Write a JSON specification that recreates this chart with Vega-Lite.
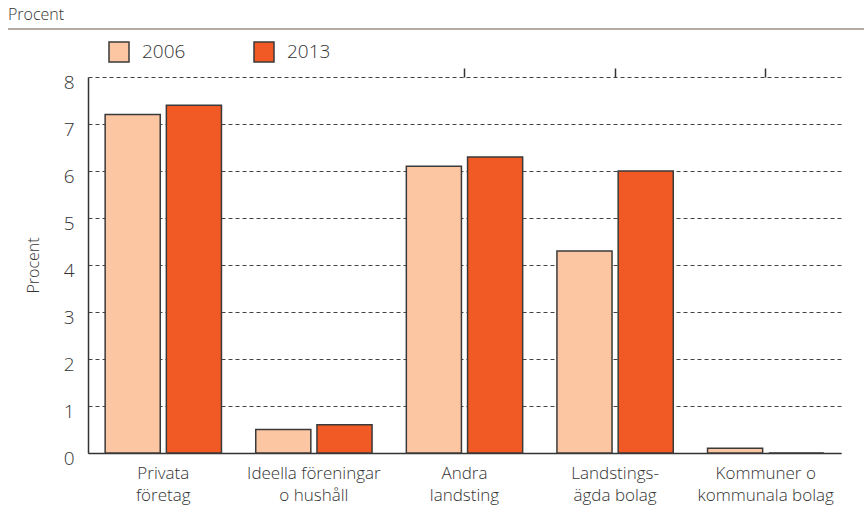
{
  "$schema": "https://vega.github.io/schema/vega-lite/v6.json",
  "autosize": "none",
  "width": 753,
  "height": 376,
  "padding": {"left": 88, "top": 77, "right": 23, "bottom": 64},
  "background": "white",
  "config": {
    "font": "Open Sans",
    "view": {"stroke": null}
  },
  "title": {
    "text": "Procent",
    "anchor": "start",
    "frame": "group",
    "dx": -80,
    "offset": 5,
    "fontSize": 16,
    "fontWeight": 300,
    "color": "#333"
  },
  "data": {
    "values": [
      {"kategori": "Privata|företag", "år": "2006", "procent": 7.2},
      {"kategori": "Privata|företag", "år": "2013", "procent": 7.4},
      {"kategori": "Ideella föreningar|o hushåll", "år": "2006", "procent": 0.5},
      {"kategori": "Ideella föreningar|o hushåll", "år": "2013", "procent": 0.6},
      {"kategori": "Andra|landsting", "år": "2006", "procent": 6.1},
      {"kategori": "Andra|landsting", "år": "2013", "procent": 6.3},
      {"kategori": "Landstings-|ägda bolag", "år": "2006", "procent": 4.3},
      {"kategori": "Landstings-|ägda bolag", "år": "2013", "procent": 6.0},
      {"kategori": "Kommuner o|kommunala bolag", "år": "2006", "procent": 0.1},
      {"kategori": "Kommuner o|kommunala bolag", "år": "2013", "procent": 0.0}
    ]
  },
  "resolve": {"axis": {"x": "independent"}},
  "layer": [
    {
      "mark": {"type": "bar", "stroke": "#3a3a3a", "strokeWidth": 1.5},
      "encoding": {
        "x": {
          "field": "kategori",
          "type": "nominal",
          "sort": null,
          "scale": {"paddingInner": 0, "paddingOuter": 0},
          "axis": {
            "orient": "bottom",
            "title": null,
            "labelAngle": 0,
            "labelExpr": "split(datum.label, '|')",
            "labelFontSize": 17,
            "labelFontWeight": 300,
            "labelColor": "#333",
            "labelPadding": 12,
            "labelLineHeight": 22,
            "ticks": false,
            "domainColor": "#333",
            "domainWidth": 1.5
          }
        },
        "xOffset": {
          "field": "år",
          "type": "nominal",
          "scale": {"paddingInner": 0.1, "paddingOuter": 0.28}
        },
        "y": {
          "field": "procent",
          "type": "quantitative",
          "scale": {"domain": [0, 8], "nice": false},
          "axis": {
            "title": "Procent",
            "titleFontSize": 16,
            "titleFontWeight": 300,
            "titleColor": "#333",
            "titlePadding": 22,
            "values": [0, 1, 2, 3, 4, 5, 6, 7, 8],
            "labelFontSize": 19,
            "labelFontWeight": 300,
            "labelColor": "#333",
            "labelPadding": 14,
            "labelOffset": 5,
            "ticks": false,
            "domainColor": "#333",
            "domainWidth": 1.5,
            "grid": true,
            "gridColor": "#444",
            "gridDash": [4, 3],
            "gridWidth": 1
          }
        },
        "color": {
          "field": "år",
          "type": "nominal",
          "scale": {"domain": ["2006", "2013"], "range": ["#FDC6A3", "#F15A24"]},
          "legend": {
            "title": null,
            "orient": "none",
            "legendX": 20,
            "legendY": -36,
            "direction": "horizontal",
            "symbolType": "square",
            "symbolSize": 400,
            "symbolStrokeColor": "#3a3a3a",
            "symbolStrokeWidth": 1.5,
            "labelFontSize": 19,
            "labelFontWeight": 300,
            "labelColor": "#333",
            "labelOffset": 12,
            "columnPadding": 65
          }
        }
      }
    },
    {
      "mark": {"type": "bar", "opacity": 0},
      "encoding": {
        "x": {
          "field": "kategori",
          "type": "nominal",
          "sort": null,
          "axis": {
            "orient": "top",
            "position": 376,
            "title": null,
            "labels": false,
            "domain": false,
            "grid": false,
            "ticks": true,
            "tickBand": "extent",
            "tickSize": 9,
            "tickColor": "#333",
            "tickWidth": 1.5
          }
        }
      }
    },
    {
      "mark": {"type": "rule", "color": "#b5aca5", "strokeWidth": 1.5},
      "encoding": {
        "y": {"datum": 9.02, "type": "quantitative"},
        "x": {"value": -80},
        "x2": {"value": 776}
      }
    }
  ]
}
